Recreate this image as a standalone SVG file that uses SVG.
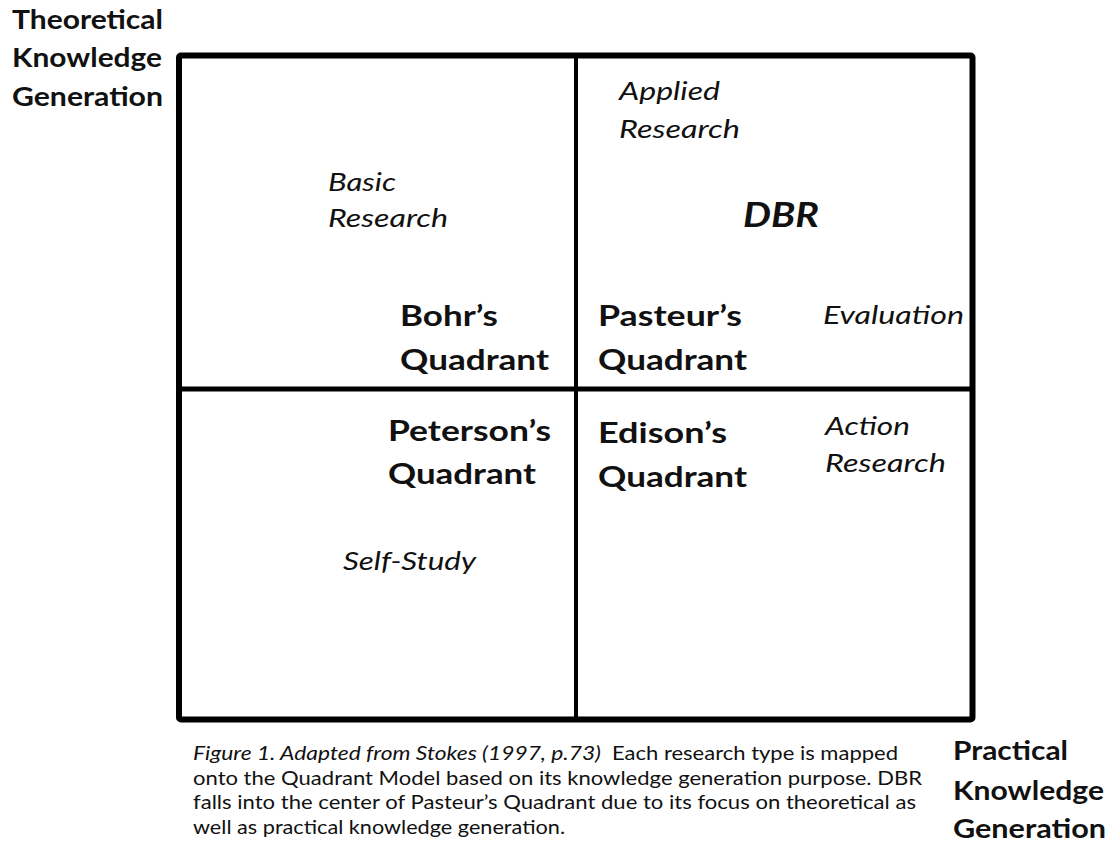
<svg xmlns="http://www.w3.org/2000/svg" width="1112" height="845" viewBox="0 0 1112 845">
  <style>
    text { fill: #111; font-family: Lato, "Open Sans", "Liberation Sans", sans-serif; }
    .axis { font-weight: 700; font-size: 27px; }
    .quad { font-weight: 700; font-size: 28px; }
    .kind { font-style: italic; font-size: 26px; }
    .dbr { font-style: italic; font-weight: 700; font-size: 35px; }
    .cap { font-size: 20px; }
    .capi { font-size: 20px; font-style: italic; }
    .frame { fill: none; stroke: #000; stroke-width: 6; }
    .divider { stroke: #000; fill: none; }
  </style>
  <rect width="1112" height="845" fill="#fff"/>

  <!-- quadrant grid -->
  <g id="grid">
    <rect class="frame" x="179" y="55.5" width="793.5" height="664" rx="2"/>
    <line class="divider" x1="576" y1="56" x2="576" y2="719" stroke-width="4"/>
    <line class="divider" x1="179" y1="389" x2="972" y2="389" stroke-width="5"/>
  </g>

  <!-- axis titles -->
  <g id="axis-theoretical">
    <text class="axis" x="12" y="29" textLength="151" lengthAdjust="spacingAndGlyphs">Theoretical</text>
    <text class="axis" x="12" y="67" textLength="150" lengthAdjust="spacingAndGlyphs">Knowledge</text>
    <text class="axis" x="12" y="106" textLength="151" lengthAdjust="spacingAndGlyphs">Generation</text>
  </g>
  <g id="axis-practical">
    <text class="axis" x="953" y="760" textLength="115" lengthAdjust="spacingAndGlyphs">Practical</text>
    <text class="axis" x="953" y="800" textLength="151" lengthAdjust="spacingAndGlyphs">Knowledge</text>
    <text class="axis" x="953" y="838" textLength="153" lengthAdjust="spacingAndGlyphs">Generation</text>
  </g>

  <!-- upper-left: Bohr -->
  <g id="bohr">
    <text class="kind" x="328" y="191" textLength="68" lengthAdjust="spacingAndGlyphs">Basic</text>
    <text class="kind" x="328" y="227" textLength="120" lengthAdjust="spacingAndGlyphs">Research</text>
    <text class="quad" x="400" y="326" textLength="98" lengthAdjust="spacingAndGlyphs">Bohr’s</text>
    <text class="quad" x="400" y="370" textLength="149" lengthAdjust="spacingAndGlyphs">Quadrant</text>
  </g>

  <!-- upper-right: Pasteur -->
  <g id="pasteur">
    <text class="kind" x="619" y="100" textLength="101" lengthAdjust="spacingAndGlyphs">Applied</text>
    <text class="kind" x="619" y="138" textLength="121" lengthAdjust="spacingAndGlyphs">Research</text>
    <text class="dbr" x="743" y="227" textLength="76" lengthAdjust="spacingAndGlyphs">DBR</text>
    <text class="quad" x="598" y="326" textLength="144" lengthAdjust="spacingAndGlyphs">Pasteur’s</text>
    <text class="quad" x="598" y="370" textLength="149" lengthAdjust="spacingAndGlyphs">Quadrant</text>
    <text class="kind" x="823" y="324" textLength="141" lengthAdjust="spacingAndGlyphs">Evaluation</text>
  </g>

  <!-- lower-left: Peterson -->
  <g id="peterson">
    <text class="quad" x="388" y="441" textLength="163" lengthAdjust="spacingAndGlyphs">Peterson’s</text>
    <text class="quad" x="388" y="484" textLength="148" lengthAdjust="spacingAndGlyphs">Quadrant</text>
    <text class="kind" x="343" y="570" textLength="133" lengthAdjust="spacingAndGlyphs">Self-Study</text>
  </g>

  <!-- lower-right: Edison -->
  <g id="edison">
    <text class="quad" x="598" y="443" textLength="129" lengthAdjust="spacingAndGlyphs">Edison’s</text>
    <text class="quad" x="598" y="487" textLength="149" lengthAdjust="spacingAndGlyphs">Quadrant</text>
    <text class="kind" x="825" y="435" textLength="85" lengthAdjust="spacingAndGlyphs">Action</text>
    <text class="kind" x="825" y="472" textLength="121" lengthAdjust="spacingAndGlyphs">Research</text>
  </g>

  <!-- figure caption -->
  <g id="caption" xml:space="preserve">
    <text class="capi" x="193" y="760" textLength="408" lengthAdjust="spacingAndGlyphs">Figure 1. Adapted from Stokes (1997, p.73)</text>
    <text class="cap" x="612" y="760" textLength="286" lengthAdjust="spacingAndGlyphs">Each research type is mapped</text>
    <text class="cap" x="193" y="785" textLength="729" lengthAdjust="spacingAndGlyphs">onto the Quadrant Model based  on its knowledge generation purpose. DBR</text>
    <text class="cap" x="193" y="809" textLength="723" lengthAdjust="spacingAndGlyphs">falls into  the center of Pasteur’s Quadrant due to its focus on theoretical as</text>
    <text class="cap" x="193" y="834" textLength="372" lengthAdjust="spacingAndGlyphs">well as practical knowledge generation.</text>
  </g>
</svg>
